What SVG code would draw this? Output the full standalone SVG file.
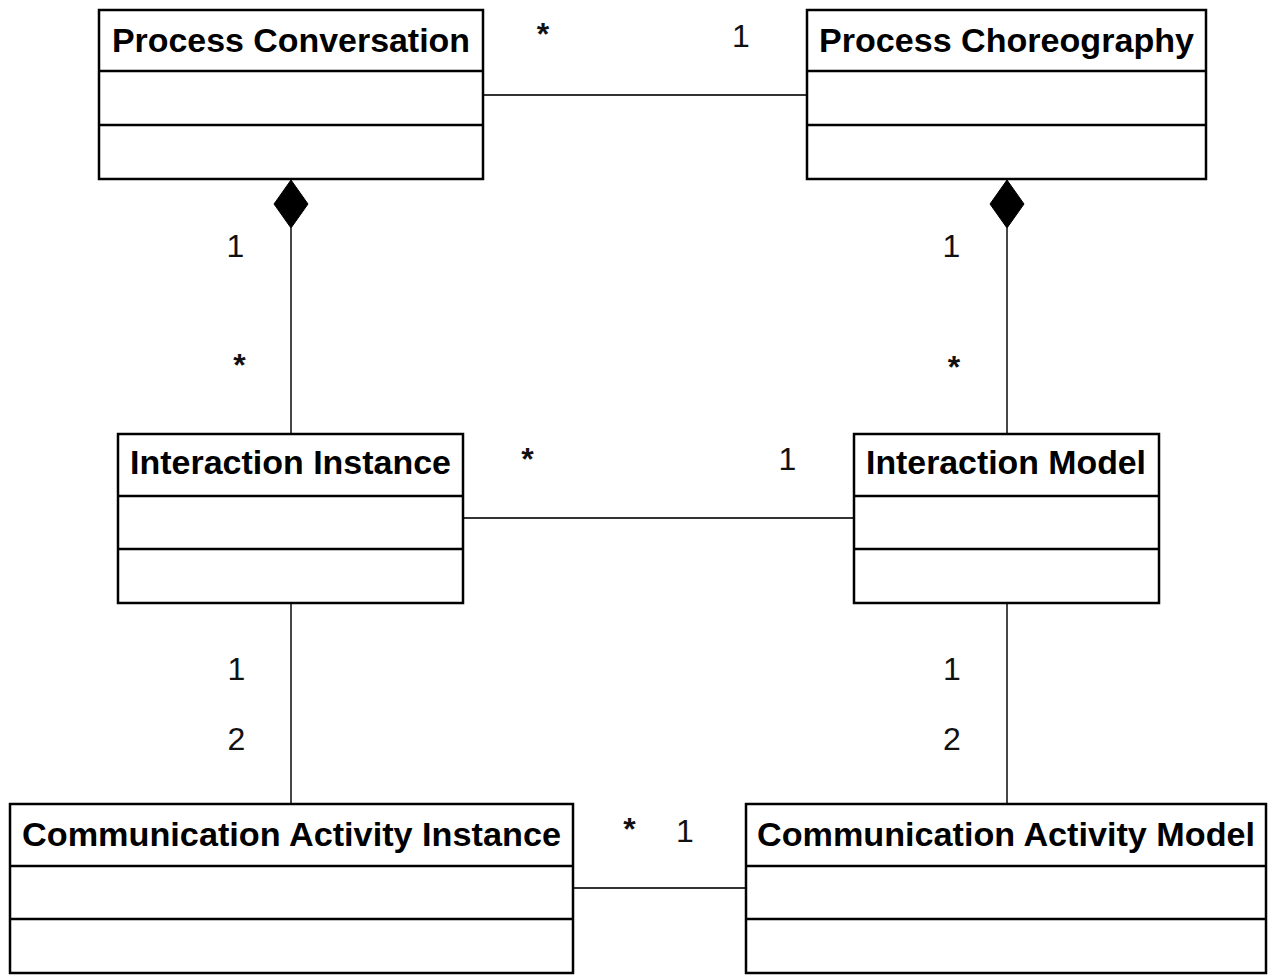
<svg xmlns="http://www.w3.org/2000/svg" width="1270" height="976" viewBox="0 0 1270 976">
<defs>
<style>
.box{fill:#fff;stroke:#000;stroke-width:2.5}
.div{stroke:#000;stroke-width:2.5}
.title{font-family:"Liberation Sans",Arial,sans-serif;font-weight:bold;font-size:34px;fill:#000;text-anchor:middle}
.conn{stroke:#333;stroke-width:1.8;fill:none}
.diamond{fill:#000;stroke:#000;stroke-width:1}
.lbl{font-family:"Liberation Sans",Arial,sans-serif;font-size:32px;fill:#111;text-anchor:middle}
.star{font-family:"Liberation Sans",Arial,sans-serif;font-size:32px;font-weight:bold;fill:#111;text-anchor:middle}
</style>
</defs>
<rect width="1270" height="976" fill="#fff"/>
<g id="connectors">
<line class="conn" x1="483" y1="95" x2="807" y2="95"/>
<line class="conn" x1="291" y1="228" x2="291" y2="434"/>
<polygon class="diamond" points="291,180 308,204 291,228 274,204"/>
<line class="conn" x1="1007" y1="228" x2="1007" y2="434"/>
<polygon class="diamond" points="1007,180 1024,204 1007,228 990,204"/>
<line class="conn" x1="463" y1="518" x2="854" y2="518"/>
<line class="conn" x1="291" y1="603" x2="291" y2="804"/>
<line class="conn" x1="1007" y1="603" x2="1007" y2="804"/>
<line class="conn" x1="573" y1="888" x2="746" y2="888"/>
</g>
<g id="labels">
<text class="star" x="543" y="45">*</text>
<text class="lbl" x="741" y="47">1</text>
<text class="lbl" x="235.5" y="257">1</text>
<text class="star" x="239.5" y="376">*</text>
<text class="lbl" x="951.5" y="257">1</text>
<text class="star" x="954" y="378">*</text>
<text class="star" x="527.5" y="470">*</text>
<text class="lbl" x="787.5" y="470">1</text>
<text class="lbl" x="236.5" y="680">1</text>
<text class="lbl" x="236.5" y="750">2</text>
<text class="lbl" x="952" y="680">1</text>
<text class="lbl" x="952" y="750">2</text>
<text class="star" x="629.5" y="840">*</text>
<text class="lbl" x="685" y="842">1</text>
</g>
<g id="process-conversation">
<rect class="box" x="99" y="10" width="384" height="169"/>
<line class="div" x1="99" y1="71" x2="483" y2="71"/>
<line class="div" x1="99" y1="125" x2="483" y2="125"/>
<text class="title" x="291" y="52" textLength="358" lengthAdjust="spacingAndGlyphs">Process Conversation</text>
</g>
<g id="process-choreography">
<rect class="box" x="807" y="10" width="399" height="169"/>
<line class="div" x1="807" y1="71" x2="1206" y2="71"/>
<line class="div" x1="807" y1="125" x2="1206" y2="125"/>
<text class="title" x="1006.5" y="52" textLength="375" lengthAdjust="spacingAndGlyphs">Process Choreography</text>
</g>
<g id="interaction-instance">
<rect class="box" x="118" y="434" width="345" height="169"/>
<line class="div" x1="118" y1="496" x2="463" y2="496"/>
<line class="div" x1="118" y1="549" x2="463" y2="549"/>
<text class="title" x="290.5" y="474" textLength="321" lengthAdjust="spacingAndGlyphs">Interaction Instance</text>
</g>
<g id="interaction-model">
<rect class="box" x="854" y="434" width="305" height="169"/>
<line class="div" x1="854" y1="496" x2="1159" y2="496"/>
<line class="div" x1="854" y1="549" x2="1159" y2="549"/>
<text class="title" x="1006" y="474" textLength="280" lengthAdjust="spacingAndGlyphs">Interaction Model</text>
</g>
<g id="communication-activity-instance">
<rect class="box" x="10" y="804" width="563" height="169"/>
<line class="div" x1="10" y1="866" x2="573" y2="866"/>
<line class="div" x1="10" y1="919" x2="573" y2="919"/>
<text class="title" x="291.5" y="846" textLength="539" lengthAdjust="spacingAndGlyphs">Communication Activity Instance</text>
</g>
<g id="communication-activity-model">
<rect class="box" x="746" y="804" width="520" height="169"/>
<line class="div" x1="746" y1="866" x2="1266" y2="866"/>
<line class="div" x1="746" y1="919" x2="1266" y2="919"/>
<text class="title" x="1006" y="846" textLength="498" lengthAdjust="spacingAndGlyphs">Communication Activity Model</text>
</g>
</svg>
